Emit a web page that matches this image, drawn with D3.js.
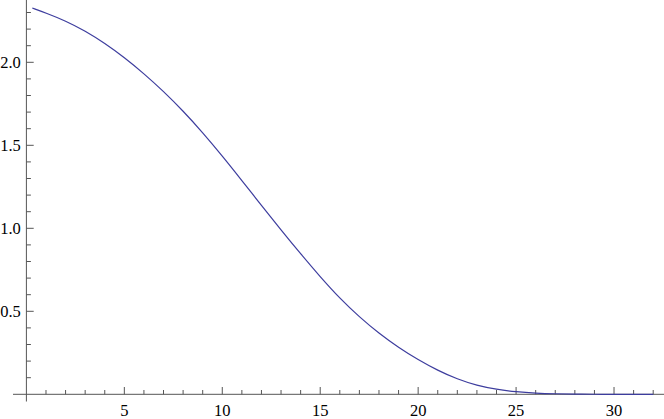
<!DOCTYPE html>
<html>
<head>
<meta charset="utf-8">
<script src="https://cdn.jsdelivr.net/npm/d3@7"></script>
<style>
  html, body { margin: 0; padding: 0; background: #fff; }
  svg { display: block; }
  .lbl { font-family: "Liberation Serif", "DejaVu Serif", serif; font-size: 16.5px; fill: #000; }
</style>
</head>
<body>
<svg id="chart" width="664" height="419"></svg>
<script>
// Data
const xValues = [0.3, 1, 2, 3, 4, 5, 6, 7, 8, 9, 10, 11, 12, 13, 14, 15, 16, 17, 18, 19, 20, 21, 22, 23, 24, 25, 26, 27, 28, 29, 30, 31, 32];
const yValues = [2.327, 2.297, 2.250, 2.189, 2.115, 2.029, 1.932, 1.825, 1.707, 1.577, 1.436, 1.288, 1.138, 0.990, 0.846, 0.708, 0.578, 0.466, 0.367, 0.282, 0.208, 0.144, 0.091, 0.053, 0.029, 0.015, 0.007, 0.003, 0.001, 0, 0, 0, 0];
const xMajorTicks = [5, 10, 15, 20, 25, 30];
const xMinorTicks = d3.range(1, 33).filter(v => v % 5 !== 0);
const yMajorTicks = [0.5, 1.0, 1.5, 2.0];
const yMinorTicks = d3.range(1, 24).filter(v => v % 5 !== 0).map(v => v / 10);
const yTickLabels = ["0.5", "1.0", "1.5", "2.0"];

const svg = d3.select("#chart");
const x = d3.scaleLinear().domain([0, 32]).range([26.4, 653.2]);
const y = d3.scaleLinear().domain([0, 2]).range([394.3, 62.3]);

const axisColor = "#555";

// Axis lines
svg.append("line")
  .attr("x1", 13).attr("x2", 664)
  .attr("y1", y(0)).attr("y2", y(0))
  .attr("stroke", axisColor).attr("stroke-width", 1);
svg.append("line")
  .attr("x1", x(0)).attr("x2", x(0))
  .attr("y1", 0).attr("y2", 401.5)
  .attr("stroke", axisColor).attr("stroke-width", 1);

// X ticks (pointing up)
svg.append("g").selectAll("line").data(xMinorTicks).join("line")
  .attr("x1", d => x(d)).attr("x2", d => x(d))
  .attr("y1", y(0)).attr("y2", y(0) - 4.3)
  .attr("stroke", axisColor).attr("stroke-width", 1);
svg.append("g").selectAll("line").data(xMajorTicks).join("line")
  .attr("x1", d => x(d)).attr("x2", d => x(d))
  .attr("y1", y(0)).attr("y2", y(0) - 7.3)
  .attr("stroke", axisColor).attr("stroke-width", 1);
svg.append("g").selectAll("text").data(xMajorTicks).join("text")
  .attr("class", "lbl")
  .attr("x", d => x(d)).attr("y", 415.5)
  .attr("text-anchor", "middle")
  .text(d => d);

// Y ticks (pointing right)
svg.append("g").selectAll("line").data(yMinorTicks).join("line")
  .attr("x1", x(0)).attr("x2", x(0) + 4.5)
  .attr("y1", d => y(d)).attr("y2", d => y(d))
  .attr("stroke", axisColor).attr("stroke-width", 1);
svg.append("g").selectAll("line").data(yMajorTicks).join("line")
  .attr("x1", x(0)).attr("x2", x(0) + 7.3)
  .attr("y1", d => y(d)).attr("y2", d => y(d))
  .attr("stroke", axisColor).attr("stroke-width", 1);
svg.append("g").selectAll("text").data(yMajorTicks).join("text")
  .attr("class", "lbl")
  .attr("x", 20.8).attr("y", d => y(d) + 5.8)
  .attr("text-anchor", "end")
  .text((d, i) => yTickLabels[i]);

// Curve
const pts = xValues.map((v, i) => [v, yValues[i]]);
svg.append("path")
  .datum(pts)
  .attr("fill", "none")
  .attr("stroke", "#3d3d9e")
  .attr("stroke-width", 1.2)
  .attr("d", d3.line().x(d => x(d[0])).y(d => y(d[1])).curve(d3.curveBasis));
</script>
</body>
</html>
